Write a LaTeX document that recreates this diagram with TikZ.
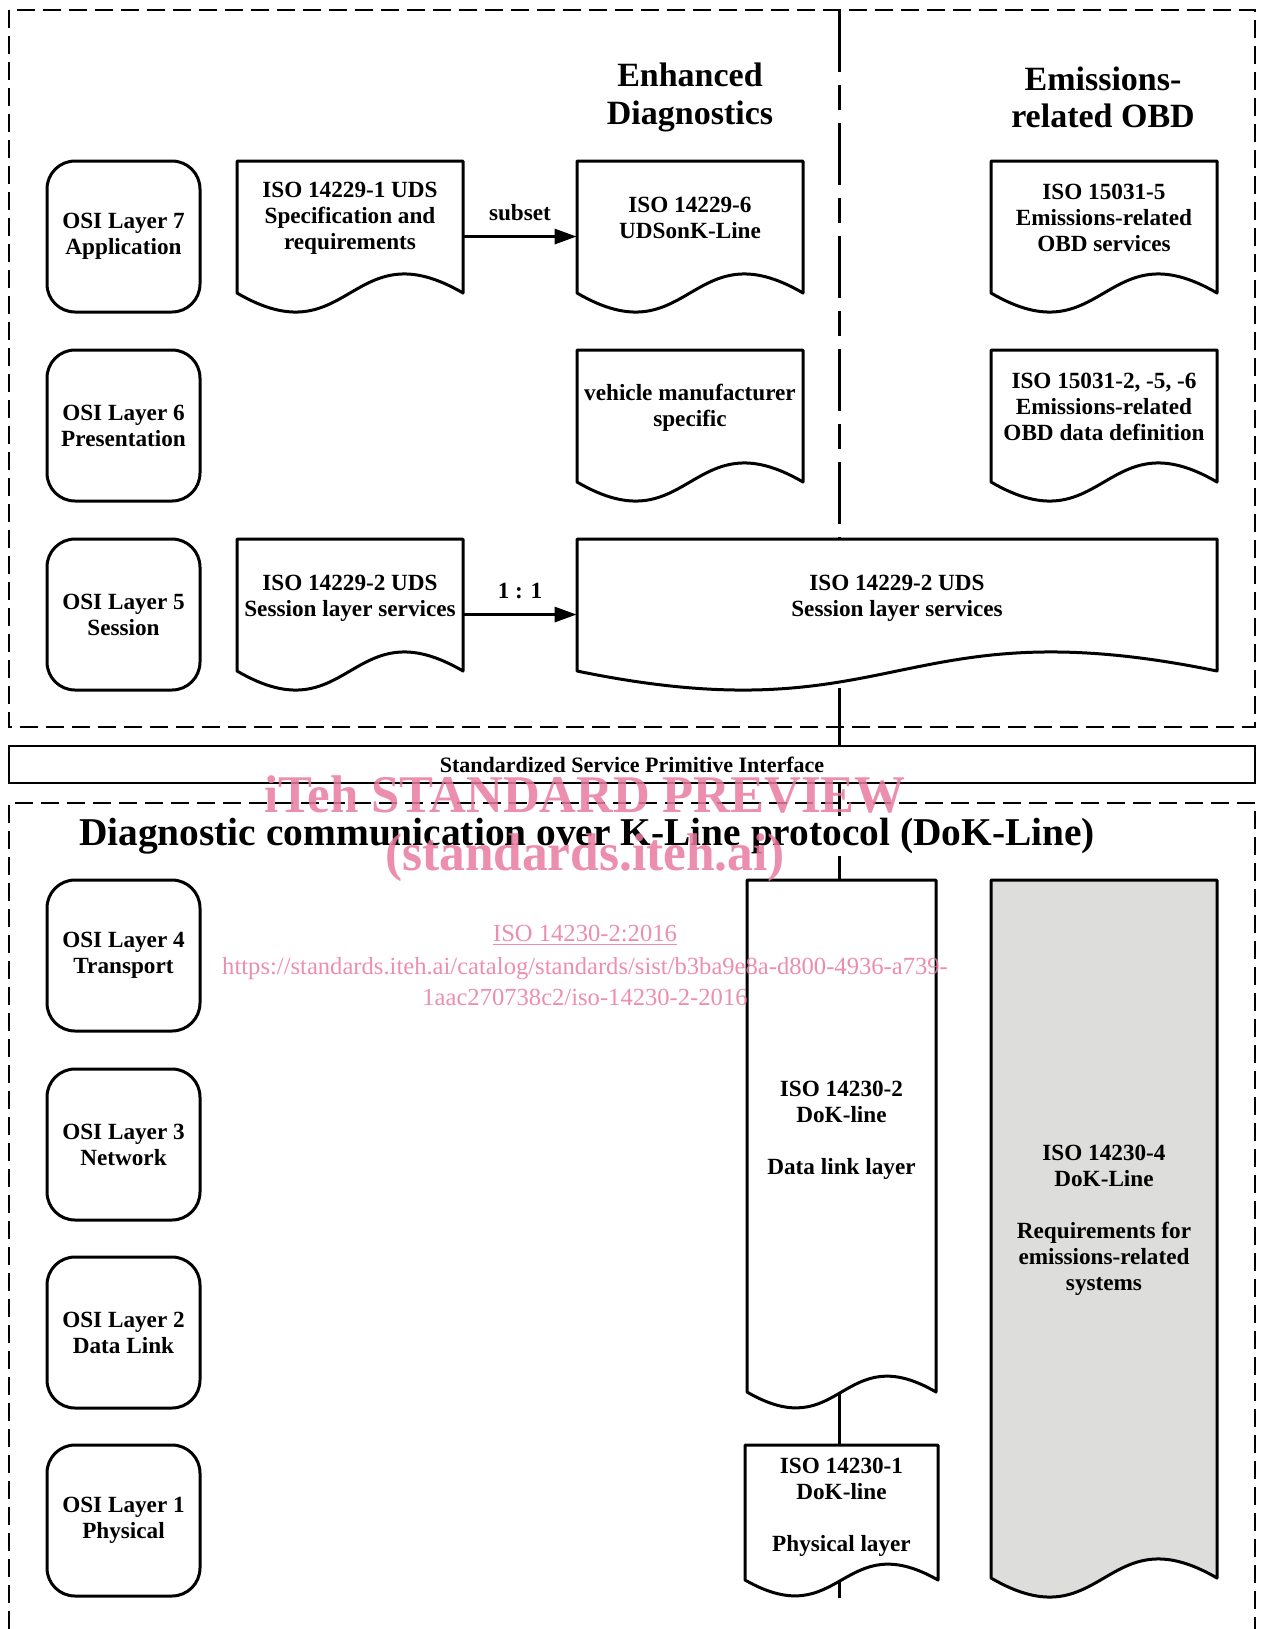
\documentclass[tikz,border=0pt]{standalone}
\usepackage{fontspec}
\usepackage{graphicx}
\setmainfont{Liberation Serif}
\usetikzlibrary{arrows.meta}
\definecolor{wmpink}{RGB}{233,122,160}
\definecolor{docgray}{RGB}{221,221,219}
\newcommand\bodyfont{\fontsize{11.6}{13}\selectfont\bfseries}
\newcommand\headfont{\fontsize{17}{18.6}\selectfont\bfseries}
\newcommand\titlefont{\fontsize{19.7}{22}\selectfont\bfseries}
\newcommand\barfont{\fontsize{11}{13}\selectfont\bfseries}
% #1 name, #2 left, #3 top, #4 right, #5 y of wave ends, #6 wave control, #7 fill, #8 text, #9 text lift
\newcommand\docshape[9]{%
  \draw[shapeline, fill=#7] (#2,#3) -- (#4,#3) -- (#4,#5)
    .. controls ({(#2+#4)/2},{#5-#6}) and ({(#2+#4)/2},{#5+#6}) .. (#2,#5) -- cycle;
  \pgfmathsetmacro\dsB{#5+0.289*#6}%
  \pgfmathsetmacro\dsW{(#4-#2)*0.5}%
  \pgfmathsetmacro\dsH{(\dsB-#3)*0.5}%
  \node[inner sep=0pt, minimum width=\dsW pt, minimum height=\dsH pt] (#1) at ({(#2+#4)/2},{(#3+\dsB)/2}) {};
  \node[doctext] (#1-t) at ([yshift=#9]#1.center) {#8};
}
\begin{document}
\begin{tikzpicture}[x=0.5pt,y=-0.5pt,
  shapeline/.style={draw=black, line width=1.5pt, line join=round},
  osi/.style={draw=black, line width=1.5pt, rounded corners=14pt, minimum width=76.5pt, minimum height=75.5pt, align=center, inner sep=0pt, font=\bodyfont},
  doctext/.style={align=center, font=\bodyfont, inner sep=0pt},
  dashbox/.style={draw=black, line width=1.3pt, dash pattern=on 9pt off 4pt},
  divider/.style={draw=black, line width=1.5pt},
  arrowline/.style={draw=black, line width=1.5pt, -{Triangle[length=11pt,width=7.5pt]}},
  lbl/.style={font=\bodyfont, inner sep=0pt},
  wm/.style={text=wmpink, text opacity=0.85, inner sep=0pt}
]
\useasboundingbox (0,0) rectangle (1260,1629);

% column divider and outer frames
\draw[divider, dash pattern=on 31pt off 6.5pt on 12.5pt off 6.5pt] (839,10) -- (839,727);
\draw[divider] (839,727) -- (839,746);
\draw[divider] (839,783) -- (839,1598);
\draw[dashbox] (9,10) rectangle (1255,727);
\draw[dashbox] (9,1629) -- (9,803) -- (1255,803) -- (1255,1629);

% headings
\node[align=center, font=\headfont, inner sep=0pt] (hEnh) at (690,97.5) {Enhanced\\Diagnostics};
\node[align=center, font=\headfont, inner sep=0pt] (hObd) at (1103,97.5) {Emissions-\\related OBD};

% OSI layers
\node[osi] (osi7) at (123.5,236.5) {OSI Layer 7\\Application};
\node[osi] (osi6) at (123.5,425.5) {OSI Layer 6\\Presentation};
\node[osi] (osi5) at (123.5,614.5) {OSI Layer 5\\Session};
\node[osi] (osi4) at (123.5,955.5) {OSI Layer 4\\Transport};
\node[osi] (osi3) at (123.5,1144.5) {OSI Layer 3\\Network};
\node[osi] (osi2) at (123.5,1332.5) {OSI Layer 2\\Data Link};
\node[osi] (osi1) at (123.5,1520.5) {OSI Layer 1\\Physical};

% document shapes
\docshape{d1}{237}{161}{463}{293}{66}{white}{ISO 14229-1 UDS\\Specification and\\requirements}{9pt}
\docshape{d2}{577}{161}{803}{293}{66}{white}{ISO 14229-6\\UDSonK-Line}{9.5pt}
\docshape{d3}{991}{161}{1217}{293}{66}{white}{ISO 15031-5\\Emissions-related\\OBD services}{9.5pt}
\docshape{d4}{577}{350}{803}{482}{66}{white}{vehicle manufacturer\\specific}{8.75pt}
\docshape{d5}{991}{350}{1217}{482}{66}{white}{ISO 15031-2, -5, -6\\Emissions-related\\OBD data definition}{9.5pt}
\docshape{d6}{237}{539}{463}{671}{66}{white}{ISO 14229-2 UDS\\Session layer services}{8.25pt}
\docshape{d7}{577}{539}{1217}{671}{66}{white}{ISO 14229-2 UDS\\Session layer services}{8.25pt}
\docshape{d8}{747}{880}{936}{1392}{55}{white}{ISO 14230-2\\DoK-line\\[13pt]Data link layer}{7pt}
\docshape{d9}{745}{1445}{938}{1580}{55}{white}{ISO 14230-1\\DoK-line\\[13pt]Physical layer}{6.75pt}
\docshape{d10}{991}{880}{1217}{1578}{66}{docgray}{ISO 14230-4\\DoK-Line\\[13pt]Requirements for\\emissions-related\\systems}{9.25pt}

% arrows
\draw[arrowline] (d1.east) -- node[lbl, midway, above=7pt] {subset} (d2.west);
\draw[arrowline] (d6.east) -- node[lbl, midway, above=7pt] {1 : 1} (d7.west);

% interface bar and title
\node[draw=black, line width=1pt, minimum width=623pt, minimum height=18.5pt, inner sep=0pt, font=\barfont] (sspi) at (632,764.5) {Standardized Service Primitive Interface};
\node[fill=white, inner sep=1pt, font=\titlefont] (title) at (587,836) {Diagnostic communication over K-Line protocol (DoK-Line)};

% watermark
\node[wm, anchor=base, font=\fontsize{26.5}{28}\selectfont\bfseries] (wm1) at (585,812) {\scalebox{0.96}[1]{iTeh STANDARD PREVIEW}};
\node[wm, anchor=base, font=\fontsize{26.5}{28}\selectfont\bfseries] (wm2) at (585,870) {\scalebox{0.97}[1]{(standards.iteh.ai)}};
\node[wm, anchor=base, font=\fontsize{12.3}{14}\selectfont] (wm3) at (585,941) {\underline{ISO 14230-2:2016}};
\node[wm, anchor=base, font=\fontsize{12.3}{14}\selectfont] (wm4) at (585,974) {https://standards.iteh.ai/catalog/standards/sist/b3ba9e8a-d800-4936-a739-};
\node[wm, anchor=base, font=\fontsize{12.3}{14}\selectfont] (wm5) at (585,1005) {1aac270738c2/iso-14230-2-2016};
\end{tikzpicture}
\end{document}
